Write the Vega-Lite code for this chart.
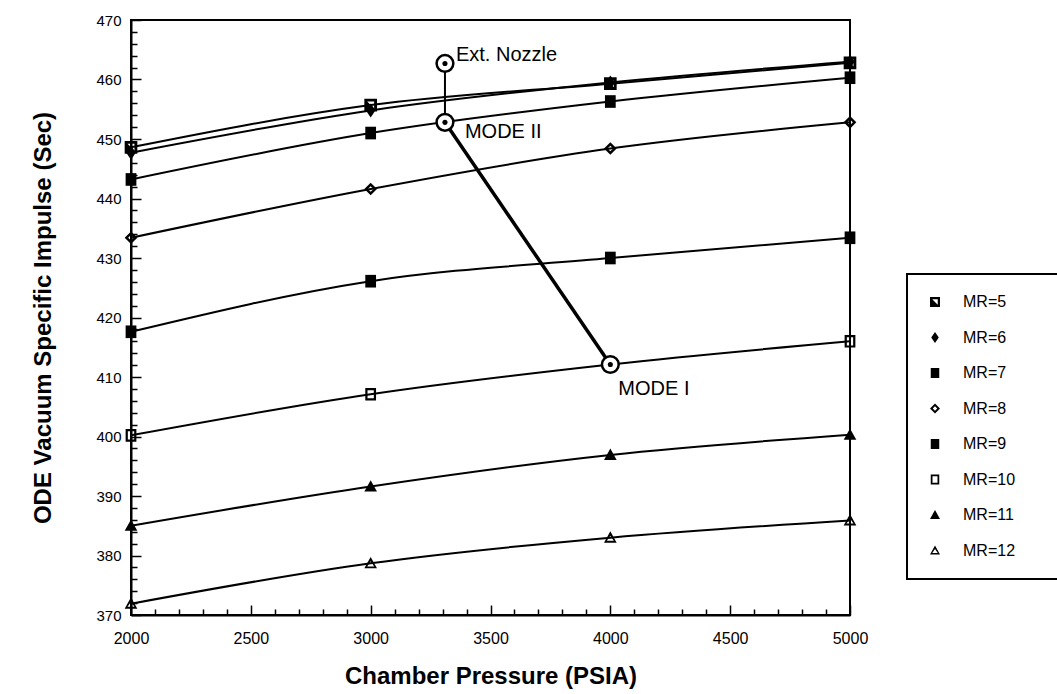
{
  "$schema": "https://vega.github.io/schema/vega-lite/v6.json",
  "autosize": {"type": "none"},
  "padding": {"left": 131, "top": 20, "right": 207, "bottom": 79},
  "width": 719,
  "height": 595,
  "background": "white",
  "config": {
    "font": "Liberation Sans",
    "view": {"stroke": "black", "strokeWidth": 2},
    "axis": {"domainColor": "black", "domainWidth": 2, "tickColor": "black", "tickWidth": 1.5, "labelColor": "black", "titleColor": "black", "grid": false},
    "legend": {"strokeWidth": 2}
  },
  "datasets": {
    "series": [
      {"MR": "MR=5", "P": 2000, "Isp": 448.6}, {"MR": "MR=5", "P": 3000, "Isp": 455.7}, {"MR": "MR=5", "P": 4000, "Isp": 459.3}, {"MR": "MR=5", "P": 5000, "Isp": 462.8},
      {"MR": "MR=6", "P": 2000, "Isp": 447.7}, {"MR": "MR=6", "P": 3000, "Isp": 454.8}, {"MR": "MR=6", "P": 4000, "Isp": 459.5}, {"MR": "MR=6", "P": 5000, "Isp": 463.0},
      {"MR": "MR=7", "P": 2000, "Isp": 443.2}, {"MR": "MR=7", "P": 3000, "Isp": 451.0}, {"MR": "MR=7", "P": 4000, "Isp": 456.3}, {"MR": "MR=7", "P": 5000, "Isp": 460.3},
      {"MR": "MR=8", "P": 2000, "Isp": 433.4}, {"MR": "MR=8", "P": 3000, "Isp": 441.6}, {"MR": "MR=8", "P": 4000, "Isp": 448.4}, {"MR": "MR=8", "P": 5000, "Isp": 452.8},
      {"MR": "MR=9", "P": 2000, "Isp": 417.6}, {"MR": "MR=9", "P": 3000, "Isp": 426.1}, {"MR": "MR=9", "P": 4000, "Isp": 430.0}, {"MR": "MR=9", "P": 5000, "Isp": 433.4},
      {"MR": "MR=10", "P": 2000, "Isp": 400.2}, {"MR": "MR=10", "P": 3000, "Isp": 407.1}, {"MR": "MR=10", "P": 4000, "Isp": 412.1}, {"MR": "MR=10", "P": 5000, "Isp": 416.0},
      {"MR": "MR=11", "P": 2000, "Isp": 385.0}, {"MR": "MR=11", "P": 3000, "Isp": 391.6}, {"MR": "MR=11", "P": 4000, "Isp": 396.9}, {"MR": "MR=11", "P": 5000, "Isp": 400.3},
      {"MR": "MR=12", "P": 2000, "Isp": 371.9}, {"MR": "MR=12", "P": 3000, "Isp": 378.7}, {"MR": "MR=12", "P": 4000, "Isp": 383.0}, {"MR": "MR=12", "P": 5000, "Isp": 385.9}
    ],
    "annot": [
      {"name": "Ext. Nozzle", "P": 3310, "Isp": 462.7},
      {"name": "MODE II", "P": 3310, "Isp": 452.8},
      {"name": "MODE I", "P": 4000, "Isp": 412.1}
    ]
  },
  "layer": [
    {
      "data": {"name": "series"},
      "mark": {"type": "line", "color": "black", "strokeWidth": 2, "interpolate": "monotone"},
      "encoding": {
        "x": {"field": "P", "type": "quantitative", "scale": {"domain": [2000, 5000], "nice": false, "zero": false},
          "axis": {"orient": "bottom", "values": [2000, 2500, 3000, 3500, 4000, 4500, 5000], "format": "d", "labelFontSize": 16, "tickSize": -10, "labelPadding": 25, "labelFlush": false, "title": "Chamber Pressure (PSIA)", "titleFontSize": 24, "titleFontWeight": "bold", "titlePadding": 18}},
        "y": {"field": "Isp", "type": "quantitative", "scale": {"domain": [370, 470], "nice": false, "zero": false},
          "axis": {"orient": "left", "values": [370, 380, 390, 400, 410, 420, 430, 440, 450, 460, 470], "labelFontSize": 15, "tickSize": -10, "labelPadding": 20, "labelFlush": false, "title": "ODE Vacuum Specific Impulse (Sec)", "titleFontSize": 24, "titleFontWeight": "bold", "titlePadding": 40}},
        "detail": {"field": "MR"}
      }
    },
    {
      "data": {"name": "annot"},
      "transform": [{"filter": "datum.name !== 'MODE I'"}],
      "mark": {"type": "line", "color": "black", "strokeWidth": 2},
      "encoding": {
        "x": {"field": "P", "type": "quantitative",
          "axis": {"orient": "bottom", "values": [2100, 2200, 2300, 2400, 2600, 2700, 2800, 2900, 3100, 3200, 3300, 3400, 3600, 3700, 3800, 3900, 4100, 4200, 4300, 4400, 4600, 4700, 4800, 4900], "labels": false, "domain": false, "tickSize": -6, "title": null}},
        "y": {"field": "Isp", "type": "quantitative",
          "axis": {"orient": "left", "values": [372, 374, 376, 378, 382, 384, 386, 388, 392, 394, 396, 398, 402, 404, 406, 408, 412, 414, 416, 418, 422, 424, 426, 428, 432, 434, 436, 438, 442, 444, 446, 448, 452, 454, 456, 458, 462, 464, 466, 468], "labels": false, "domain": false, "tickSize": -6, "title": null}}
      }
    },
    {
      "data": {"name": "annot"},
      "transform": [{"filter": "datum.name !== 'Ext. Nozzle'"}],
      "mark": {"type": "line", "color": "black", "strokeWidth": 3.5},
      "encoding": {
        "x": {"field": "P", "type": "quantitative", "axis": null},
        "y": {"field": "Isp", "type": "quantitative", "axis": null}
      }
    },
    {
      "data": {"name": "series"},
      "mark": {"type": "point", "filled": true, "color": "black", "opacity": 1, "size": 160},
      "encoding": {
        "x": {"field": "P", "type": "quantitative", "axis": null},
        "y": {"field": "Isp", "type": "quantitative", "axis": null},
        "shape": {"field": "MR", "type": "nominal",
          "scale": {"domain": ["MR=5", "MR=6", "MR=7", "MR=8", "MR=9", "MR=10", "MR=11", "MR=12"],
            "range": [
              "M-1,-1H1V1H-1ZM-0.55,-0.55V0.55H0.55V-0.55ZM-0.55,-0.55L0.55,0.55H-0.55Z",
              "M0,-1.1L0.75,0L0,1.1L-0.75,0Z",
              "M-0.85,-1H0.85V1H-0.85Z",
              "M0,-1L1,0L0,1L-1,0ZM0,-0.45L-0.45,0L0,0.45L0.45,0Z",
              "M-0.85,-1H0.85V1H-0.85Z",
              "M-0.85,-1H0.85V1H-0.85ZM-0.5,-0.65V0.65H0.5V-0.65Z",
              "M0,-1L1,0.8H-1Z",
              "M0,-1L1,0.8H-1ZM0,-0.3L-0.55,0.5H0.55Z"
            ]},
          "legend": {"orient": "none", "legendX": 776, "legendY": 254, "title": "\u00a0", "titleOrient": "right", "titleFontSize": 10, "titlePadding": 70, "strokeColor": "black", "padding": 20, "labelFontSize": 16, "labelColor": "black", "labelOffset": 20, "symbolSize": 100, "rowPadding": 19.5, "symbolStrokeWidth": 0, "symbolFillColor": "black"}
        }
      }
    },
    {
      "data": {"name": "annot"},
      "mark": {"type": "point", "shape": "circle", "size": 280, "fill": "white", "stroke": "black", "strokeWidth": 2.5, "opacity": 1},
      "encoding": {
        "x": {"field": "P", "type": "quantitative", "axis": null},
        "y": {"field": "Isp", "type": "quantitative", "axis": null}
      }
    },
    {
      "data": {"name": "annot"},
      "mark": {"type": "point", "shape": "circle", "size": 26, "filled": true, "color": "black", "opacity": 1},
      "encoding": {
        "x": {"field": "P", "type": "quantitative", "axis": null},
        "y": {"field": "Isp", "type": "quantitative", "axis": null}
      }
    },
    {
      "data": {"name": "annot"},
      "transform": [{"filter": "datum.name === 'Ext. Nozzle'"}],
      "mark": {"type": "text", "align": "left", "baseline": "middle", "dx": 11, "dy": -8, "fontSize": 20, "color": "black"},
      "encoding": {
        "x": {"field": "P", "type": "quantitative", "axis": null},
        "y": {"field": "Isp", "type": "quantitative", "axis": null},
        "text": {"field": "name"}
      }
    },
    {
      "data": {"name": "annot"},
      "transform": [{"filter": "datum.name === 'MODE II'"}],
      "mark": {"type": "text", "align": "left", "baseline": "middle", "dx": 20, "dy": 10, "fontSize": 20, "color": "black"},
      "encoding": {
        "x": {"field": "P", "type": "quantitative", "axis": null},
        "y": {"field": "Isp", "type": "quantitative", "axis": null},
        "text": {"field": "name"}
      }
    },
    {
      "data": {"name": "annot"},
      "transform": [{"filter": "datum.name === 'MODE I'"}],
      "mark": {"type": "text", "align": "left", "baseline": "middle", "dx": 8, "dy": 24, "fontSize": 20, "color": "black"},
      "encoding": {
        "x": {"field": "P", "type": "quantitative", "axis": null},
        "y": {"field": "Isp", "type": "quantitative", "axis": null},
        "text": {"field": "name"}
      }
    }
  ],
  "resolve": {"axis": {"x": "independent", "y": "independent"}}
}
